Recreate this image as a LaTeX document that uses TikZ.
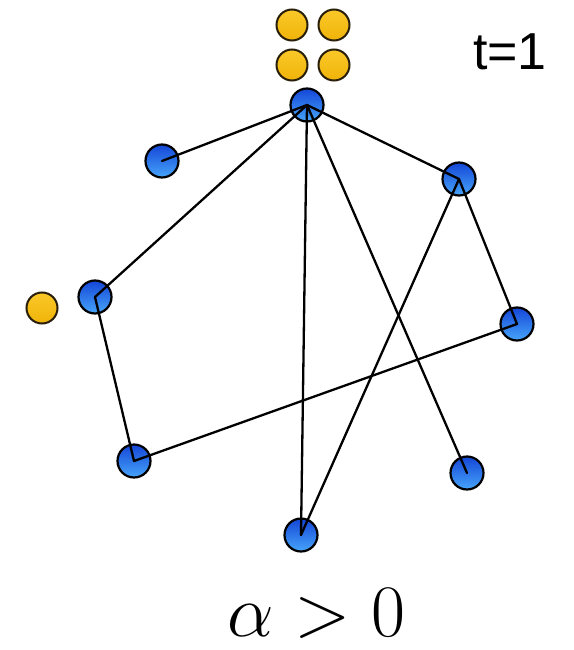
\documentclass[tikz,border=0pt]{standalone}
\usepackage{fontspec}
\usepackage{graphicx}
\newfontfamily\labelfont{Liberation Sans}
\begin{document}
\begin{tikzpicture}[x=1pt,y=-1pt,
  bluenode/.style={circle,draw=black,line width=2.2pt,minimum size=33pt,inner sep=0pt,
    top color={rgb,255:red,20;green,70;blue,215},bottom color={rgb,255:red,70;green,165;blue,250}},
  yellownode/.style={circle,draw={rgb,255:red,40;green,30;blue,10},line width=2pt,minimum size=31pt,inner sep=0pt,
    top color={rgb,255:red,250;green,200;blue,40},bottom color={rgb,255:red,240;green,180;blue,10}},
  edge/.style={line width=2.3pt,black,line cap=round}]
\useasboundingbox (0,0) rectangle (573,650);
\fill[white] (0,0) rectangle (573,650);
\node[yellownode] (y1) at (292,25) {};
\node[yellownode] (y2) at (334,25) {};
\node[yellownode] (y3) at (292,65) {};
\node[yellownode] (y4) at (334,65) {};
\node[yellownode] (y5) at (42,308) {};
\node[bluenode] (top) at (307,105) {};
\node[bluenode] (a) at (162,161) {};
\node[bluenode] (b) at (459,179) {};
\node[bluenode] (c) at (95,297) {};
\node[bluenode] (d) at (517,324) {};
\node[bluenode] (e) at (134,461) {};
\node[bluenode] (f) at (467,473) {};
\node[bluenode] (g) at (301,535) {};
\draw[edge] (top.center) -- (a.center);
\draw[edge] (top.center) -- (c.center);
\draw[edge] (top.center) -- (g.center);
\draw[edge] (top.center) -- (f.center);
\draw[edge] (top.center) -- (b.center);
\draw[edge] (b.center) -- (d.center);
\draw[edge] (b.center) -- (g.center);
\draw[edge] (c.center) -- (e.center);
\draw[edge] (e.center) -- (d.center);
\node[font=\labelfont\fontsize{52}{60}\selectfont,inner sep=0pt] (t) at (510,52) {t=1};
\node[inner sep=0pt,anchor=base] (al) at (316,636) {\fontsize{24.88}{30}\selectfont\scalebox{2.974}{$\alpha>0$}};
\end{tikzpicture}
\end{document}
